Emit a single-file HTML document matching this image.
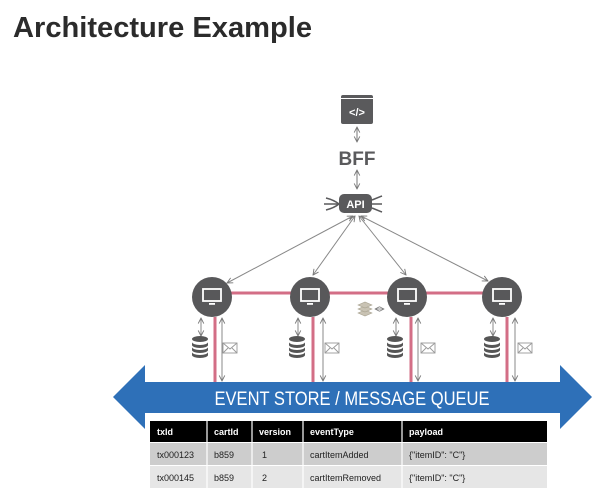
<!DOCTYPE html>
<html><head><meta charset="utf-8"><style>html,body{margin:0;padding:0;background:#fff}svg{display:block}</style></head><body>
<svg width="600" height="499" viewBox="0 0 600 499" xmlns="http://www.w3.org/2000/svg" font-family="Liberation Sans, sans-serif">
<defs>
<marker id="a" viewBox="0 0 10 10" refX="9" refY="5" markerWidth="7" markerHeight="7" orient="auto-start-reverse"><path d="M1,1 L9,5 L1,9" fill="none" stroke="#777" stroke-width="1.3"/></marker>
<g id="svc">
<circle r="20" fill="#58585a"/>
<rect x="-9" y="-8" width="18" height="12" fill="none" stroke="#fff" stroke-width="1.8"/>
<rect x="-3" y="6" width="6" height="1.8" fill="#fff"/>
</g>
<g id="db" fill="#555">
<ellipse cx="0" cy="-7" rx="8" ry="3"/>
<path d="M-8,-4 a8,3 0 0 0 16,0 v3 a8,3 0 0 1 -16,0z"/>
<path d="M-8,1 a8,3 0 0 0 16,0 v3 a8,3 0 0 1 -16,0z"/>
<path d="M-8,6 a8,3 0 0 0 16,0 v3 a8,3 0 0 1 -16,0z"/>
</g>
<g id="env" fill="none" stroke="#999" stroke-width="0.9">
<rect x="-7" y="-5" width="14" height="10" fill="#fff"/>
<path d="M-7,-5 L0,1 L7,-5 M-7,5 L-2,0 M7,5 L2,0"/>
</g>
</defs>
<text x="13" y="37" font-size="29" font-weight="bold" fill="#2b2b2b" textLength="299" lengthAdjust="spacingAndGlyphs">Architecture Example</text>

<!-- browser -->
<rect x="341" y="95" width="32" height="29" rx="2" fill="#5a5a5c"/>
<rect x="341" y="98" width="32" height="1" fill="#fff"/>
<text x="357" y="116" font-size="11" fill="#fff" text-anchor="middle" font-weight="bold">&lt;/&gt;</text>
<line x1="357" y1="127" x2="357" y2="142" stroke="#777" marker-start="url(#a)" marker-end="url(#a)"/>
<text x="357" y="165" font-size="19" font-weight="bold" fill="#5a5a5c" text-anchor="middle">BFF</text>
<line x1="357" y1="170" x2="357" y2="189" stroke="#777" marker-start="url(#a)" marker-end="url(#a)"/>
<!-- API -->
<rect x="339" y="194" width="33" height="19" rx="5" fill="#5a5a5c"/>
<text x="355.5" y="208" font-size="11" font-weight="bold" fill="#fff" text-anchor="middle">API</text>
<path d="M326,198 q8,2 13,6 M326,210 q8,-2 13,-6 M324,204 h15" stroke="#5a5a5c" stroke-width="1.5" fill="none"/>
<path d="M372,200 l10,-4 M372,204 h10 M372,208 l10,4" stroke="#5a5a5c" stroke-width="1.5" fill="none"/>
<!-- API arrows -->
<g stroke="#888" stroke-width="1" fill="none">
<line x1="353" y1="216" x2="227" y2="283" marker-start="url(#a)" marker-end="url(#a)"/>
<line x1="355" y1="216" x2="313" y2="275" marker-start="url(#a)" marker-end="url(#a)"/>
<line x1="359" y1="216" x2="406" y2="275" marker-start="url(#a)" marker-end="url(#a)"/>
<line x1="361" y1="216" x2="488" y2="281" marker-start="url(#a)" marker-end="url(#a)"/>
</g>
<!-- pink lines -->
<g stroke="#d36e86" stroke-width="3">
<line x1="212" y1="293" x2="502" y2="293"/>
<line x1="215" y1="317" x2="215" y2="383"/>
<line x1="313" y1="317" x2="313" y2="383"/>
<line x1="411" y1="317" x2="411" y2="383"/>
<line x1="507" y1="317" x2="507" y2="383"/>
</g>
<use href="#svc" x="212" y="297"/>
<use href="#svc" x="310" y="297"/>
<use href="#svc" x="407" y="297"/>
<use href="#svc" x="502" y="297"/>
<!-- redis -->
<g fill="#c9c3b4" stroke="#a8a290" stroke-width="0.6">
<path d="M358,313 l7,-3 l7,3 l-7,3z"/><path d="M358,309 l7,-3 l7,3 l-7,3z"/><path d="M358,305 l7,-3 l7,3 l-7,3z"/>
</g>
<line x1="375" y1="309" x2="384" y2="309" stroke="#777" marker-start="url(#a)" marker-end="url(#a)" stroke-width="0.8"/>
<!-- per service -->
<g stroke="#888" fill="none">
<line x1="201" y1="318" x2="201" y2="336" marker-start="url(#a)" marker-end="url(#a)"/>
<line x1="222" y1="318" x2="222" y2="381" marker-start="url(#a)" marker-end="url(#a)"/>
<line x1="298" y1="318" x2="298" y2="336" marker-start="url(#a)" marker-end="url(#a)"/>
<line x1="323" y1="318" x2="323" y2="381" marker-start="url(#a)" marker-end="url(#a)"/>
<line x1="396" y1="318" x2="396" y2="336" marker-start="url(#a)" marker-end="url(#a)"/>
<line x1="418" y1="318" x2="418" y2="381" marker-start="url(#a)" marker-end="url(#a)"/>
<line x1="493" y1="318" x2="493" y2="336" marker-start="url(#a)" marker-end="url(#a)"/>
<line x1="515" y1="318" x2="515" y2="381" marker-start="url(#a)" marker-end="url(#a)"/>
</g>
<use href="#db" x="200" y="346"/>
<use href="#db" x="297" y="346"/>
<use href="#db" x="395" y="346"/>
<use href="#db" x="492" y="346"/>
<use href="#env" x="230" y="348"/>
<use href="#env" x="332" y="348"/>
<use href="#env" x="428" y="348"/>
<use href="#env" x="525" y="348"/>
<!-- big arrow -->
<path d="M113,397 L145,365 L145,382 L560,382 L560,365 L592,397 L560,429 L560,413 L145,413 L145,429 Z" fill="#2e70b8"/>
<text x="352" y="405" font-size="19" fill="#fff" text-anchor="middle" textLength="275" lengthAdjust="spacingAndGlyphs">EVENT STORE / MESSAGE QUEUE</text>
<!-- table -->
<rect x="149" y="419" width="399" height="70" fill="#fff"/>
<rect x="150" y="421" width="397" height="21" fill="#000"/>
<rect x="150" y="443" width="397" height="22" fill="#cdcdcd"/>
<rect x="150" y="466" width="397" height="22" fill="#e6e6e6"/>
<g stroke="#fff" stroke-width="1.2">
<line x1="207" y1="421" x2="207" y2="488"/><line x1="252" y1="421" x2="252" y2="488"/>
<line x1="303" y1="421" x2="303" y2="488"/><line x1="402" y1="421" x2="402" y2="488"/>
</g>
<g font-size="9" font-weight="bold" fill="#fff">
<text x="157" y="435">txId</text><text x="214" y="435">cartId</text><text x="259" y="435">version</text><text x="310" y="435">eventType</text><text x="409" y="435">payload</text>
</g>
<g font-size="9" fill="#222">
<text x="157" y="458">tx000123</text><text x="214" y="458">b859</text><text x="262" y="458">1</text><text x="310" y="458">cartItemAdded</text><text x="409" y="458">{"itemID": "C"}</text>
<text x="157" y="481">tx000145</text><text x="214" y="481">b859</text><text x="262" y="481">2</text><text x="310" y="481">cartItemRemoved</text><text x="409" y="481">{"itemID": "C"}</text>
</g>
</svg>
</body></html>
